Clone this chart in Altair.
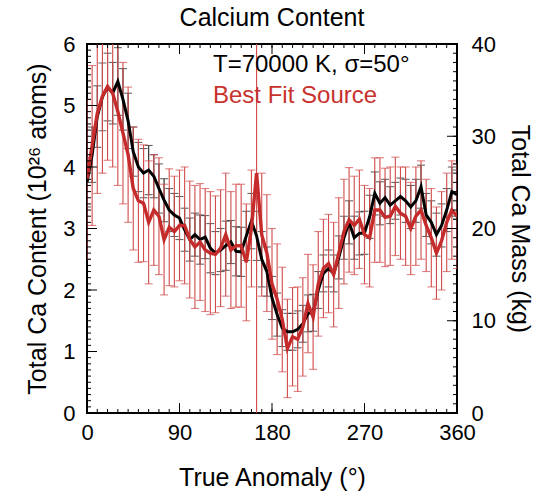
import altair as alt
import pandas as pd

# ---------------- data ----------------
anomaly = list(range(0, 365, 5))

model_ca = [3.75, 4.2, 4.82, 5.14, 5.3, 5.2, 5.39, 5.1, 4.75, 4.25,
            4.0, 3.9, 3.95, 3.85, 3.65, 3.46, 3.3, 3.22, 3.17, 2.98,
            2.82, 2.9, 2.82, 2.86, 2.68, 2.6, 2.65, 2.72, 2.78, 2.63,
            2.62, 2.88, 3.12, 2.88, 2.5, 2.3, 1.87, 1.6, 1.38, 1.32,
            1.32, 1.36, 1.45, 1.62, 1.63, 2.0, 2.27, 2.35, 2.27, 2.53,
            2.85, 3.1, 2.85, 2.92, 2.93, 3.19, 3.57, 3.41, 3.5, 3.38,
            3.45, 3.52, 3.45, 3.35, 3.45, 3.68, 3.22, 3.1, 2.9, 3.05,
            3.3, 3.6, 3.55]
model_err = [0.4, 0.45, 0.5, 0.55, 0.55, 0.5, 0.55, 0.5, 0.45, 0.4,
             0.4, 0.4, 0.4, 0.35, 0.4, 0.35, 0.35, 0.35, 0.35, 0.35,
             0.35, 0.35, 0.4, 0.35, 0.4, 0.35, 0.35, 0.4, 0.35, 0.4,
             0.4, 0.4, 0.45, 0.4, 0.45, 0.4, 0.35, 0.35, 0.3, 0.3,
             0.3, 0.3, 0.3, 0.3, 0.3, 0.3, 0.3, 0.3, 0.3, 0.35,
             0.35, 0.35, 0.35, 0.35, 0.35, 0.35, 0.35, 0.35, 0.3, 0.3,
             0.3, 0.3, 0.35, 0.35, 0.35, 0.35, 0.35, 0.35, 0.35, 0.35,
             0.35, 0.4, 0.4]

fit_ca = [3.8, 4.35, 4.87, 5.15, 5.31, 5.2, 4.9, 4.55, 4.2, 3.65,
          3.45, 3.41, 3.1, 3.3, 3.2, 2.82, 3.02, 2.95, 3.05, 3.05,
          2.82, 2.7, 2.78, 2.65, 2.6, 2.58, 2.68, 2.9, 2.65, 2.72,
          2.72, 2.45, 3.0, 3.9, 2.9, 2.6, 2.1, 1.85, 1.52, 1.05,
          1.24, 1.2, 1.4, 1.78, 1.56, 2.1, 2.35, 2.43, 2.25, 2.6,
          2.95, 3.14, 3.05, 3.15, 2.9, 2.85, 3.3, 3.3, 3.18, 3.2,
          3.36, 3.25, 3.2, 3.0, 3.2, 3.3, 3.05, 2.85, 2.6, 2.8,
          3.1, 3.3, 3.2]
fit_err = [1.3, 1.3, 1.3, 1.25, 1.2, 1.2, 1.2, 1.15, 1.1, 1.0,
           1.0, 0.95, 1.0, 0.9, 0.95, 0.9, 0.95, 0.9, 0.9, 0.95,
           0.95, 1.0, 0.95, 1.0, 1.0, 0.95, 0.95, 1.0, 0.95, 1.0,
           1.0, 0.95, 0.95, 10.0, 1.0, 0.95, 0.9, 0.9, 0.85, 0.8,
           0.8, 0.85, 0.8, 0.8, 0.85, 0.85, 0.8, 0.8, 0.85, 0.9,
           0.85, 0.85, 0.8, 0.8, 0.8, 0.8, 0.85, 0.85, 0.8, 0.8,
           0.8, 0.75, 0.8, 0.75, 0.8, 0.8, 0.75, 0.8, 0.75, 0.8,
           0.8, 0.8, 0.85]

x_major = [0, 90, 180, 270, 360]
x_minor = list(range(0, 361, 10))
y_major = [0, 1, 2, 3, 4, 5, 6]
y_minor = [i / 10 for i in range(0, 61)]
kg_major = [0, 10, 20, 30, 40]
kg_minor = list(range(0, 41))

legend_line1 = "T=70000 K, σ=50°"
legend_line2 = "Best Fit Source"

# ---------------- layout ----------------
W, H = 370, 369
FONT = "Liberation Sans"
RED = "#c62b2b"
RED_BAR = "#d24a4a"
TICK_FS = 22
TITLE_FS = 25

def mk(vals, errs):
    return pd.DataFrame({
        "x": anomaly, "y": vals,
        "lo": [v - e for v, e in zip(vals, errs)],
        "hi": [v + e for v, e in zip(vals, errs)],
    })

model_df = mk(model_ca, model_err)
fit_df = mk(fit_ca, fit_err)

xscale = alt.Scale(domain=[0, 360], nice=False, zero=False)
yscale = alt.Scale(domain=[0, 6], nice=False, zero=False)
kscale = alt.Scale(domain=[0, 40], nice=False, zero=False)

common = dict(ticks=False, domain=False, grid=False, labelFontSize=TICK_FS,
              labelFont=FONT, labelColor="black", labelFlush=False,
              titleFontSize=TITLE_FS, titleFont=FONT, titleFontWeight="normal",
              titleColor="black")
x_axis = alt.Axis(orient="bottom", values=x_major, labelPadding=9,
                  title="True Anomaly (°)", titlePadding=22, **common)
y_axis = alt.Axis(orient="left", values=y_major, labelPadding=12,
                  title="Total Ca Content (10²⁶ atoms)", titlePadding=12, **common)
k_axis = alt.Axis(orient="right", values=kg_major, labelPadding=14,
                  title="Total Ca Mass (kg)", titlePadding=11, **common)


def X():
    return alt.X("x:Q", scale=xscale, axis=x_axis)


def Y(field):
    return alt.Y(f"{field}:Q", scale=yscale, axis=y_axis)


def bars(df, color, width):
    rule = alt.Chart(df).mark_rule(color=color, strokeWidth=width, clip=True).encode(
        x=X(), y=Y("lo"), y2="hi:Q")
    cap_lo = alt.Chart(df).mark_tick(color=color, orient="horizontal", size=8,
                                     thickness=width, clip=True).encode(
        x=X(), y=Y("lo"))
    cap_hi = alt.Chart(df).mark_tick(color=color, orient="horizontal", size=8,
                                     thickness=width, clip=True).encode(
        x=X(), y=Y("hi"))
    return [rule, cap_lo, cap_hi]


model_line = alt.Chart(model_df).mark_line(color="black", strokeWidth=3, clip=True).encode(
    x=X(), y=Y("y"))
fit_line = alt.Chart(fit_df).mark_line(color=RED, strokeWidth=3.4, clip=True).encode(
    x=X(), y=Y("y"))

xt_major = pd.DataFrame({"x": x_major})
xt_minor = pd.DataFrame({"x": x_minor})
yt_major = pd.DataFrame({"y": y_major})
yt_minor = pd.DataFrame({"y": y_minor})
kt_major = pd.DataFrame({"k": kg_major})
kt_minor = pd.DataFrame({"k": kg_minor})


def xticks(df, L):
    bot = alt.Chart(df).mark_rule(color="black", strokeWidth=1).encode(
        x=X(), y=alt.value(H), y2=alt.value(H - L))
    top = alt.Chart(df).mark_rule(color="black", strokeWidth=1).encode(
        x=X(), y=alt.value(0), y2=alt.value(L))
    return [bot, top]


def yticks(df, L):
    return alt.Chart(df).mark_rule(color="black", strokeWidth=1).encode(
        y=Y("y"), x=alt.value(0), x2=alt.value(L))


def label(text, color, ypix):
    df = pd.DataFrame({"t": [text]})
    return alt.Chart(df).mark_text(align="left", baseline="middle", fontSize=24,
                                   font=FONT, color=color).encode(
        text="t:N", x=alt.value(126), y=alt.value(ypix))


main = alt.layer(*(bars(model_df, "#222222", 1.1) + bars(fit_df, RED_BAR, 1.1)
                   + [model_line, fit_line]
                   + xticks(xt_major, 10) + xticks(xt_minor, 4)
                   + [yticks(yt_major, 10), yticks(yt_minor, 4),
                      label(legend_line1, "black", 21),
                      label(legend_line2, "#c8322d", 52)]))

right = alt.layer(
    alt.Chart(kt_major).mark_rule(color="black", strokeWidth=1).encode(
        y=alt.Y("k:Q", scale=kscale, axis=k_axis), x=alt.value(W), x2=alt.value(W - 10)),
    alt.Chart(kt_minor).mark_rule(color="black", strokeWidth=1).encode(
        y=alt.Y("k:Q", scale=kscale, axis=k_axis), x=alt.value(W), x2=alt.value(W - 4)),
)

chart = alt.layer(main, right).resolve_scale(y="independent").properties(
    width=W, height=H,
    title=alt.TitleParams("Calcium Content", fontSize=TITLE_FS, font=FONT,
                          fontWeight="normal", color="black", anchor="middle",
                          offset=2),
    autosize=alt.AutoSizeParams(type="none"),
    padding={"left": 87, "top": 44, "right": 86, "bottom": 80},
    background="white",
).configure_view(stroke="black", strokeWidth=2)

chart.save("out.html", embed_options={"renderer": "svg", "actions": False})
